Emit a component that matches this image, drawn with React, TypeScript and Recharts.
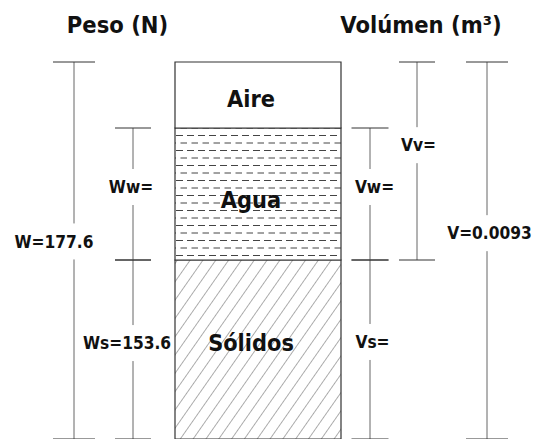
import { ComposedChart, XAxis, YAxis, Bar, ReferenceLine, ReferenceDot } from "recharts";

// fases del suelo, de abajo hacia arriba (alto esquemático del dibujo)
const phases = ["Sólidos", "Agua", "Aire"];
const phaseHeights = [179, 132, 66];

// cotas de peso y volumen: texto + fases que abarcan [desde, hasta)
const weightLabels = ["Ws=153.6", "Ww=", "W=177.6"];
const weightSpans = [[0, 1], [1, 2], [0, 3]];
const volumeLabels = ["Vs=", "Vw=", "Vv=", "V=0.0093"];
const volumeSpans = [[0, 1], [1, 2], [1, 3], [0, 3]];
const titles = ["Peso (N)", "Volúmen (m³)"];

// layout
const W = 533;
const H = 439;
const BOX = [175, 341];
const FONT = "'DejaVu Sans Condensed', 'DejaVu Sans', sans-serif";
const phaseFills = ["url(#hatchSolid)", "url(#dashWater)", "#fff"];
const phaseLabelFrac = [0.536, 0.46, 0.45];
const weightCols = [133, 133, 74];
const weightTick = [18, 18, 21];
const weightDx = [-6, -2, -20];
const weightFrac = [0.536, 0.553, 0.524];
const volumeCols = [370, 370, 417, 487];
const volumeTick = [18.5, 18.5, 18, 21];
const volumeDx = [2.5, 4.5, 1.5, 2.5];
const volumeFrac = [0.542, 0.553, 0.58, 0.546];
const titleX = [117.5, 421];
const GAP = 18;

const bounds = phaseHeights.reduce<number[]>((acc, h) => [...acc, acc[acc.length - 1] + h], [0]);

const column: Record<string, number> = { x: (BOX[0] + BOX[1]) / 2 };
phases.forEach((p, i) => (column[p] = phaseHeights[i]));
const data = [column];

const textLabel = (value: string, size: number) => ({
  value,
  position: "center" as const,
  fill: "#111",
  fontSize: size,
  fontWeight: 700,
  fontFamily: FONT,
  fontStretch: "condensed",
});

function dimension(key: string, label: string, span: number[], x: number, tick: number, dx: number, frac: number) {
  const y0 = bounds[span[0]];
  const y1 = bounds[span[1]];
  const ly = y0 + frac * (y1 - y0);
  const line = { stroke: "#666", strokeWidth: 1, ifOverflow: "visible" as const };
  return [
    <ReferenceLine key={key + "a"} segment={[{ x, y: y0 }, { x, y: ly - GAP }]} {...line} />,
    <ReferenceLine key={key + "b"} segment={[{ x, y: ly + GAP }, { x, y: y1 }]} {...line} />,
    <ReferenceLine key={key + "c"} segment={[{ x: x - tick, y: y0 }, { x: x + tick, y: y0 }]} {...line} stroke="#333" />,
    <ReferenceLine key={key + "d"} segment={[{ x: x - tick, y: y1 }, { x: x + tick, y: y1 }]} {...line} stroke="#333" />,
    <ReferenceDot key={key + "t"} x={x + dx} y={ly} r={0} ifOverflow="visible" label={textLabel(label, 17.2)} />,
  ];
}

export default function App() {
  return (
    <div style={{ position: "absolute", left: 0, top: 0, width: W, height: H, background: "#fff" }}>
      <svg width={0} height={0} style={{ position: "absolute" }}>
        <defs>
          <pattern id="hatchSolid" patternUnits="userSpaceOnUse" width={10.5} height={10} patternTransform="rotate(35)">
            <rect width={10.5} height={10} fill="#fff" />
            <line x1={0} y1={0} x2={0} y2={10} stroke="#777" strokeWidth={1.2} />
          </pattern>
          <pattern id="dashWater" patternUnits="userSpaceOnUse" width={11} height={15}>
            <rect width={11} height={15} fill="#fff" />
            <line x1={0} y1={0.5} x2={7} y2={0.5} stroke="#444" strokeWidth={1} />
            <line x1={4.5} y1={8} x2={11.5} y2={8} stroke="#444" strokeWidth={1} />
          </pattern>
        </defs>
      </svg>
      <ComposedChart width={W} height={H} data={data} margin={{ top: 0, right: 0, bottom: 0, left: 0 }}>
        <XAxis dataKey="x" type="number" hide domain={[0, W]} allowDataOverflow />
        <YAxis type="number" hide domain={[0, H]} allowDataOverflow />
        {phases.map((p, i) => (
          <Bar
            key={p}
            dataKey={p}
            stackId="fases"
            barSize={BOX[1] - BOX[0]}
            fill={phaseFills[i]}
            stroke="#333"
            strokeWidth={1.2}
            isAnimationActive={false}
          />
        ))}
        {phases.map((p, i) => (
          <ReferenceDot
            key={p + "-t"}
            x={(BOX[0] + BOX[1]) / 2 - 7}
            y={bounds[i] + phaseLabelFrac[i] * phaseHeights[i]}
            r={0}
            ifOverflow="visible"
            label={textLabel(p, 23.3)}
          />
        ))}
        {weightLabels.map((l, i) =>
          dimension("w" + i, l, weightSpans[i], weightCols[i], weightTick[i], weightDx[i], weightFrac[i])
        )}
        {volumeLabels.map((l, i) =>
          dimension("v" + i, l, volumeSpans[i], volumeCols[i], volumeTick[i], volumeDx[i], volumeFrac[i])
        )}
        {titles.map((t, i) => (
          <ReferenceDot key={t} x={titleX[i]} y={H - 24.5} r={0} ifOverflow="visible" label={textLabel(t, 23.5)} />
        ))}
      </ComposedChart>
    </div>
  );
}
